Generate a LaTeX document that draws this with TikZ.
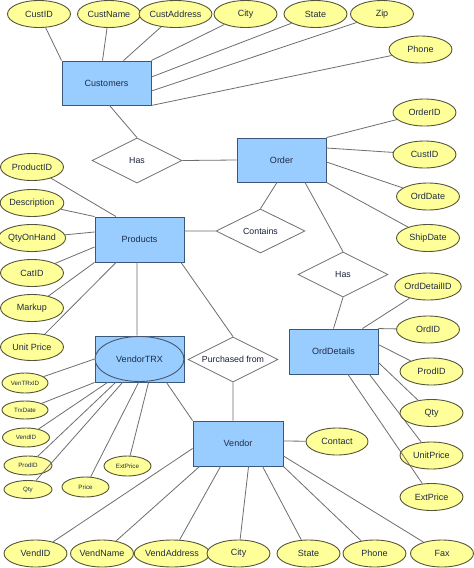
\documentclass[tikz,border=0pt]{standalone}
\usepackage{fontspec}
\setmainfont{Liberation Sans}
\usetikzlibrary{shapes.geometric,calc}
\definecolor{attrfill}{HTML}{FFFF99}
\definecolor{attrdraw}{HTML}{55553A}
\definecolor{entfill}{HTML}{99CCFF}
\definecolor{entdraw}{HTML}{3A5878}
\definecolor{linec}{HTML}{6E6E6E}
\definecolor{txtc}{HTML}{1E2A44}
\tikzset{
  attr/.style={ellipse, draw=attrdraw, fill=attrfill, line width=0.9pt, inner sep=0pt,
    minimum width=63pt, minimum height=27pt, text=txtc, font=\fontsize{9}{10}\selectfont},
  sattr/.style={attr, minimum width=47pt, minimum height=19pt, font=\fontsize{6.2}{7}\selectfont},
  entity/.style={rectangle, draw=entdraw, fill=entfill, line width=0.9pt, inner sep=0pt,
    minimum width=89pt, minimum height=44pt, text=txtc, font=\fontsize{9}{10}\selectfont},
  rel/.style={diamond, draw=linec, fill=white, line width=0.8pt, inner sep=0pt, aspect=2,
    minimum width=90pt, minimum height=45pt, text=txtc!80!black, font=\fontsize{8.8}{10}\selectfont},
  conn/.style={draw=linec, line width=0.8pt}
}
\begin{document}
\begin{tikzpicture}[x=1pt,y=-1pt]
\useasboundingbox[fill=white] (0,0) rectangle (474,568);
% entities
\node[entity] (cust) at (106.5,83) {Customers};
\node[entity] (order) at (281.5,160) {Order};
\node[entity, minimum height=45pt] (prod) at (139.5,239.5) {Products};
\node[entity, minimum height=46pt] (vtrxbox) at (139.5,359) {};
\node[ellipse, draw=txtc!80, fill=entfill, line width=0.9pt, minimum width=89pt, minimum height=45pt, inner sep=0pt, text=txtc, font=\fontsize{9}{10}\selectfont] (vtrx) at (139.5,359) {VendorTRX};
\node[entity, minimum width=90pt, minimum height=45pt] (vendor) at (238,443.5) {Vendor};
\node[entity, minimum height=45pt] (od) at (333.5,351.5) {OrdDetails};
% relationships
\node[rel] (has1) at (137,160.5) {Has};
\node[rel, minimum width=89pt, minimum height=44pt] (contains) at (260.5,231) {Contains};
\node[rel] (has2) at (343,274.5) {Has};
\node[rel] (purch) at (233,359.5) {Purchased from};
% customer attributes
\node[attr] (cid) at (39,14) {CustID};
\node[attr] (cname) at (109,14) {CustName};
\node[attr] (caddr) at (175.5,14) {CustAddress};
\node[attr] (ccity) at (245.5,14) {City};
\node[attr] (cstate) at (315.5,14) {State};
\node[attr] (czip) at (382,14) {Zip};
\node[attr] (cphone) at (420.5,49.5) {Phone};
% order attributes
\node[attr] (oid) at (424.5,112.5) {OrderID};
\node[attr] (ocid) at (424.5,154.5) {CustID};
\node[attr] (odate) at (428,196.5) {OrdDate};
\node[attr] (oship) at (428,238) {ShipDate};
% product attributes
\node[attr] (pid) at (32,167) {ProductID};
\node[attr] (desc) at (32,203) {Description};
\node[attr] (qoh) at (32,238) {QtyOnHand};
\node[attr] (cat) at (32,273) {CatID};
\node[attr] (markup) at (32,308) {Markup};
\node[attr] (uprice) at (32,347) {Unit Price};
% vendortrx attributes
\node[sattr, minimum width=46pt, minimum height=20pt] (vtid) at (25,383) {VenTRxID};
\node[sattr, minimum width=46pt, minimum height=18pt] (trx) at (25,410) {TrxDate};
\node[sattr] (svid) at (26,437.5) {VendID};
\node[sattr, minimum width=48pt] (spid) at (28,465.5) {ProdID};
\node[sattr, minimum width=48pt, minimum height=18pt] (sqty) at (28,489.5) {Qty};
\node[sattr, minimum height=20pt] (sprice) at (85.5,487) {Price};
\node[sattr, minimum height=20pt] (sext) at (127.5,466) {ExtPrice};
% vendor attributes
\node[attr, minimum width=62pt] (contact) at (337,441.5) {Contact};
\node[attr] (vid) at (35.5,553.5) {VendID};
\node[attr] (vname) at (102,553.5) {VendName};
\node[attr] (vaddr) at (172,553.5) {VendAddress};
\node[attr] (vcity) at (238.5,553.5) {City};
\node[attr] (vstate) at (308.5,553.5) {State};
\node[attr] (vphone) at (374.5,553.5) {Phone};
\node[attr] (vfax) at (442,553.5) {Fax};
% orddetails attributes
\node[attr] (odid) at (428,286.5) {OrdDetailID};
\node[attr] (ordid) at (428,329.5) {OrdID};
\node[attr] (odpid) at (431.5,371.5) {ProdID};
\node[attr] (odqty) at (431.5,413) {Qty};
\node[attr] (odup) at (431.5,455.5) {UnitPrice};
\node[attr] (odext) at (431.5,497) {ExtPrice};
% connectors
\path[conn]
  (cid) -- (cust.north west)
  (cname) -- ($(cust.north)+(-4,0)$)
  (caddr) -- ($(cust.north)+(17,0)$)
  (ccity) -- (cust.north east)
  (cstate) -- ($(cust.east)+(0,-6)$)
  (czip) -- ($(cust.east)+(0,8)$)
  (cphone) -- (cust.south east)
  ($(cust.south)+(3,0)$) -- (has1.north)
  (has1.east) -- (order.west)
  (order.north east) -- (oid)
  ($(order.east)+(0,-12)$) -- (ocid)
  ($(order.east)+(0,2)$) -- (odate)
  (order.south east) -- (oship)
  ($(order.south)+(-4.5,0)$) -- (contains.north)
  ($(order.south)+(23.5,0)$) -- (has2.north)
  (pid) -- ($(prod.north)+(-23.5,0)$)
  (desc) -- (prod.north west)
  (qoh) -- ($(prod.west)+(0,-7.5)$)
  (cat) -- ($(prod.west)+(0,7.5)$)
  (markup) -- (prod.south west)
  (uprice) -- ($(prod.south)+(-23.5,0)$)
  ($(prod.east)+(0,-8.5)$) -- (contains.west)
  ($(prod.south)+(-2.5,0)$) -- ($(vtrxbox.north)+(-2.5,0)$)
  ($(prod.south)+(41.5,0)$) -- (purch.north)
  (vtid) -- (vtrxbox.west)
  (trx) -- (vtrxbox.south west)
  (svid) -- ($(vtrxbox.south west)+(13,0)$)
  (spid) -- ($(vtrxbox.south west)+(21,0)$)
  (sqty) -- ($(vtrxbox.south west)+(28,0)$)
  (sprice) -- ($(vtrxbox.south west)+(44,0)$)
  (sext) -- ($(vtrxbox.south west)+(54,0)$)
  ($(vtrxbox.south east)+(-18,0)$) -- (vendor.north west)
  (purch.south) -- ($(vendor.north)+(-5,0)$)
  ($(vendor.east)+(0,-2.5)$) -- (contact)
  ($(vendor.west)+(0,5)$) -- (vid)
  ($(vendor.south west)+(7,0)$) -- (vname)
  ($(vendor.south west)+(28,0)$) -- (vaddr)
  ($(vendor.south west)+(56,0)$) -- (vcity)
  ($(vendor.south west)+(70,0)$) -- (vstate)
  (vendor.south east) -- (vphone)
  ($(vendor.east)+(0,12.5)$) -- (vfax)
  (has2.south) -- (od.north)
  ($(od.north east)+(-16,0)$) -- (odid)
  (od.north east) -- (ordid)
  ($(od.north east)+(0,16)$) -- (odpid)
  ($(od.north east)+(0,34)$) -- (odqty)
  ($(od.south east)+(-9,0)$) -- (odup)
  ($(od.south)+(14.5,0)$) -- (odext);
\end{tikzpicture}
\end{document}
